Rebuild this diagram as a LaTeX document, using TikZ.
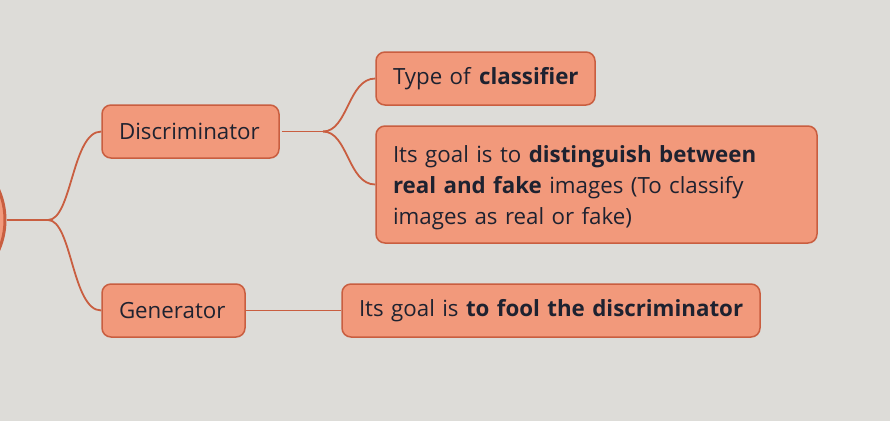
\documentclass[tikz,border=0pt]{standalone}
\usepackage{fontspec}
\setmainfont{Open Sans}
\definecolor{bg}{HTML}{DDDCD8}
\definecolor{boxfill}{HTML}{F2997B}
\definecolor{boxline}{HTML}{C95E40}
\definecolor{txt}{HTML}{1E2230}
\begin{document}
\begin{tikzpicture}[x=1pt,y=-1pt,
  mbox/.style={draw=boxline, fill=boxfill, line width=1.5pt, rounded corners=9pt,
    inner xsep=17pt, inner ysep=0pt, text=txt, font=\fontsize{22.3}{31}\selectfont, align=left, anchor=center},
  link/.style={draw=boxline, line width=1.8pt}]
\fill[bg] (0,0) rectangle (890,421);
\useasboundingbox (0,0) rectangle (890,421);
\node[circle, draw=boxline, fill=boxfill, line width=3pt, minimum size=150pt] (root) at (-70,220) {};
\node[mbox, minimum width=177pt, minimum height=53pt, text width=143pt] (disc) at (190.5,131.5) {\mbox{Discriminator}};
\node[mbox, minimum width=143pt, minimum height=53pt, text width=109pt] (gen) at (173.5,310.5) {\mbox{Generator}};
\node[mbox, minimum width=219pt, minimum height=53pt, text width=185pt] (type) at (485.5,78.5) {\mbox{Type of \textbf{classifier}}};
\node[mbox, minimum width=441pt, minimum height=117pt, text width=407pt] (goal) at (596.5,184.5) {\mbox{\rule{0pt}{23pt}Its goal is to \textbf{distinguish between}}\\\mbox{\textbf{real and fake} images (To classify}\\\mbox{images as real or fake)}};
\node[mbox, minimum width=418pt, minimum height=53pt, text width=384pt] (fool) at (551,310.5) {\mbox{Its goal is \textbf{to fool the discriminator}}};
\coordinate (j1) at (48,220);
\coordinate (j2) at (323,131.5);
\draw[link] (root.east) -- (j1);
\draw[link] (j1) .. controls (72,220) and (72,131.5) .. (disc.west);
\draw[link] (j1) .. controls (72,220) and (72,310.5) .. (gen.west);
\draw[link] ([xshift=2pt]disc.east) -- (j2);
\draw[link] (j2) .. controls (348,131.5) and (348,78.5) .. (type.west);
\draw[link] (j2) .. controls (348,131.5) and (348,184.5) .. (goal.west);
\draw[link] (gen.east) -- (fool.west);
\end{tikzpicture}
\end{document}
